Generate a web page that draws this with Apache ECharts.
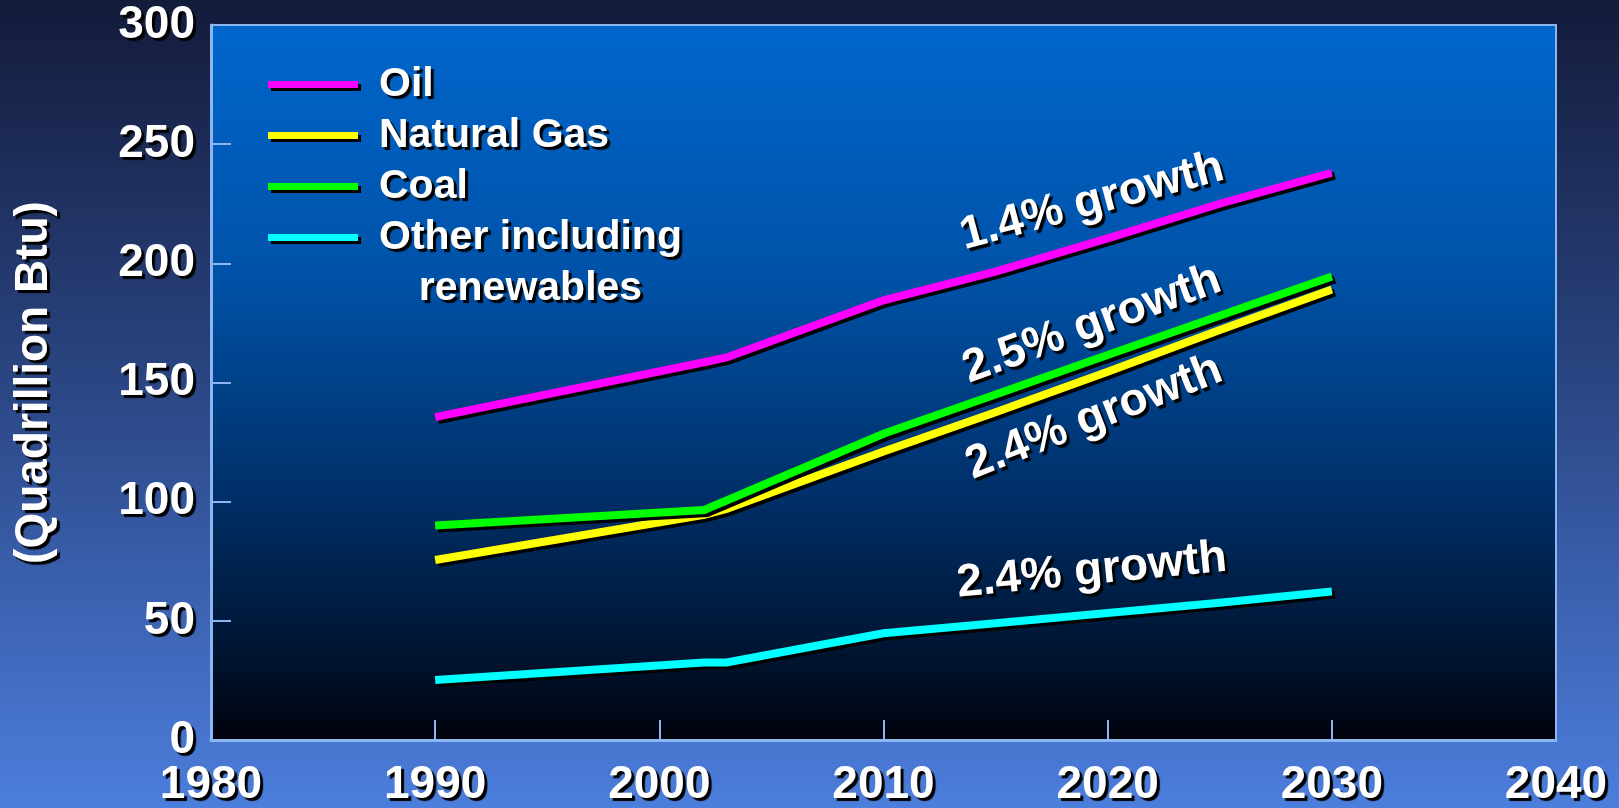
<!DOCTYPE html>
<html>
<head>
<meta charset="utf-8">
<script src="https://cdn.jsdelivr.net/npm/echarts@6/dist/echarts.min.js"></script>
<style>
html,body{margin:0;padding:0;width:1619px;height:808px;overflow:hidden;background:#131c3b;}
#chart{width:1619px;height:808px;}
</style>
</head>
<body>
<div id="chart"></div>
<script>
// ---- data ----
const years = [1990, 2002, 2003, 2010, 2015, 2020, 2025, 2030];
const oil = [135.5, 158.5, 160.5, 184.5, 196.5, 210.5, 225, 238];
const naturalGas = [75.5, 94.5, 97, 121, 137.5, 154.5, 172, 189];
const coal = [90, 96.5, 100.5, 128.5, 145, 161.5, 178, 194.5];
const other = [25.2, 32.5, 32.5, 44.8, 49, 53.3, 57.6, 62.3];
const seriesNames = ['Oil', 'Natural Gas', 'Coal', 'Other including renewables'];
const seriesColors = ['#ff00ff', '#ffff00', '#00ff00', '#00ffff'];
const xTicks = [1980, 1990, 2000, 2010, 2020, 2030, 2040];
const yTicks = [0, 50, 100, 150, 200, 250, 300];
const yAxisTitle = '(Quadrillion Btu)';
const annotationTexts = ['1.4% growth', '2.5% growth', '2.4% growth', '2.4% growth'];
const annotationAnchors = [[2019.3, 225.8], [2019.3, 174.3], [2019.4, 135.3], [2019.3, 70.9]];
const annotationAngles = [15, 20, 21.5, 5.5];

const FONT = '"Liberation Sans", Arial, sans-serif';
const shadowText = {textShadowColor: '#000', textShadowBlur: 1, textShadowOffsetX: 3, textShadowOffsetY: 3};

const allValues = [oil, naturalGas, coal, other];
const chart = echarts.init(document.getElementById('chart'), null, {renderer: 'canvas'});

const series = seriesNames.map((name, i) => ({
  name: name,
  type: 'line',
  data: years.map((y, j) => [y, allValues[i][j]]),
  symbol: 'none',
  color: seriesColors[i],
  lineStyle: {
    width: 8, color: seriesColors[i], cap: 'butt', join: 'miter',
    shadowColor: '#000', shadowBlur: 0, shadowOffsetX: 3, shadowOffsetY: 3
  },
  z: 3 + i,
  animation: false
}));

const option = {
  animation: false,
  backgroundColor: new echarts.graphic.LinearGradient(0, 0, 0, 1, [
    {offset: 0, color: '#131b3a'},
    {offset: 0.5, color: '#2c4887'},
    {offset: 1, color: '#4c7edd'}
  ]),
  grid: {
    left: 211, right: 63, top: 25, bottom: 67,
    show: true,
    borderColor: '#8cb6f2', borderWidth: 2,
    backgroundColor: new echarts.graphic.LinearGradient(0, 0, 0, 1, [
      {offset: 0, color: '#0066cc'},
      {offset: 0.35, color: '#0052a8'},
      {offset: 0.65, color: '#00306a'},
      {offset: 0.88, color: '#001430'},
      {offset: 1, color: '#00020c'}
    ])
  },
  legend: {
    show: true,
    orient: 'vertical',
    left: 263, top: 54,
    itemWidth: 90, itemHeight: 7, itemGap: 0,
    icon: 'rect',
    selectedMode: false,
    itemStyle: {shadowColor: '#000', shadowBlur: 0, shadowOffsetX: 3, shadowOffsetY: 3},
    textStyle: Object.assign({
      color: '#fff', fontSize: 41, fontWeight: 'bold', fontFamily: FONT,
      lineHeight: 51, padding: [0, 0, 0, 16]
    }, shadowText),
    data: [
      {name: seriesNames[0]},
      {name: seriesNames[1]},
      {name: seriesNames[2]},
      {name: seriesNames[3], textStyle: {padding: [0, 0, -51, 16]}}
    ],
    formatter: function (name) {
      if (name === seriesNames[3]) return '{c|Other including}\n{c|renewables}';
      return name;
    }
  },
  xAxis: {
    type: 'value', min: xTicks[0], max: xTicks[xTicks.length - 1], interval: 10,
    axisLine: {show: true, lineStyle: {color: '#8cb6f2', width: 3}},
    axisTick: {show: true, inside: true, length: 20, lineStyle: {color: '#8cb6f2', width: 2}},
    splitLine: {show: false},
    axisLabel: Object.assign({
      color: '#fff', fontSize: 46, fontWeight: 'bold', fontFamily: FONT, margin: 22,
      showMinLabel: true, showMaxLabel: true,
      formatter: v => String(v)
    }, shadowText)
  },
  yAxis: {
    type: 'value', min: yTicks[0], max: yTicks[yTicks.length - 1], interval: 50,
    name: yAxisTitle, nameLocation: 'middle', nameRotate: 90, nameGap: 154,
    nameTextStyle: Object.assign({color: '#fff', fontSize: 46, fontWeight: 'bold', fontFamily: FONT}, shadowText),
    axisLine: {show: true, lineStyle: {color: '#8cb6f2', width: 3}},
    axisTick: {show: true, inside: true, length: 20, lineStyle: {color: '#8cb6f2', width: 2}},
    splitLine: {show: false},
    axisLabel: Object.assign({
      color: '#fff', fontSize: 46, fontWeight: 'bold', fontFamily: FONT, margin: 16,
      showMinLabel: true, showMaxLabel: true
    }, shadowText)
  },
  series: series
};
option.legend.textStyle.rich = {
  c: Object.assign({
    align: 'center', color: '#fff', fontSize: 41, fontWeight: 'bold', fontFamily: FONT, lineHeight: 51
  }, shadowText)
};

chart.setOption(option);

// growth annotations anchored in data coordinates
const graphics = annotationTexts.map((t, i) => {
  const p = chart.convertToPixel({gridIndex: 0}, annotationAnchors[i]);
  return {
    type: 'text',
    x: p[0], y: p[1],
    rotation: annotationAngles[i] * Math.PI / 180,
    z: 20,
    style: {
      text: t, fill: '#fff', fontSize: 46, fontWeight: 'bold', fontFamily: FONT,
      align: 'center', verticalAlign: 'middle',
      textShadowColor: '#000', textShadowBlur: 1, textShadowOffsetX: 3, textShadowOffsetY: 3,
      shadowColor: '#000', shadowBlur: 1, shadowOffsetX: 3, shadowOffsetY: 3
    }
  };
});
chart.setOption({graphic: graphics});
</script>
</body>
</html>
